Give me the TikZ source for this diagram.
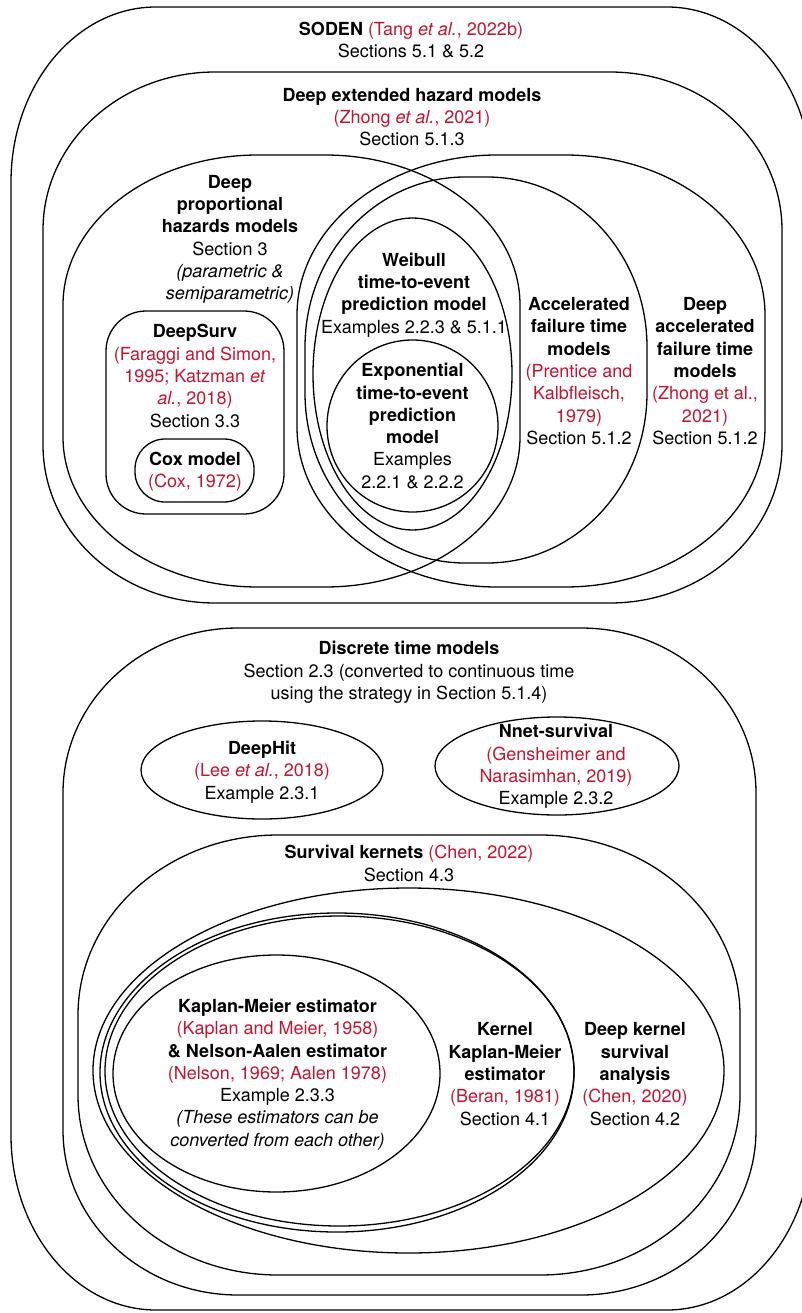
\documentclass[tikz,border=0pt]{standalone}
\usepackage{fontspec}
\setmainfont{TeX Gyre Heros}
\definecolor{cred}{RGB}{196,20,50}
\newcommand\cit[1]{\textcolor{cred}{#1}}
% elliptical-corner rectangle: x1 y1 x2 y2 rx ry (image pixel coords, y down)
\newcommand\erect[6]{\draw[shp] (#1+#5,-#2) -- (#3-#5,-#2)
  arc[start angle=90,end angle=0,x radius=#5,y radius=#6] -- (#3,-#4+#6)
  arc[start angle=0,end angle=-90,x radius=#5,y radius=#6] -- (#1+#5,-#4)
  arc[start angle=270,end angle=180,x radius=#5,y radius=#6] -- (#1,-#2-#6)
  arc[start angle=180,end angle=90,x radius=#5,y radius=#6] -- cycle;}
\tikzset{
  lbl/.style={align=center, inner sep=0pt, font=\fontsize{18}{22.3}\selectfont},
  shp/.style={line width=1.3pt, line join=round}
}
\begin{document}
\begin{tikzpicture}[x=1pt,y=1pt]
\useasboundingbox (0,0) rectangle (802,-1313);
\clip (0,0) rectangle (802,-1313);
\fill[white] (0,0) rectangle (802,-1313);
% ---- shapes ----
\erect{11}{7}{812}{1310}{145}{175}
\erect{43}{72}{782}{603}{172}{158}
\erect{63}{155}{520}{587}{195}{150}
\erect{297}{155}{765}{587}{200}{160}
\erect{305}{177}{647}{563}{160}{170}
\draw[shp] (412.5,-374) ellipse [x radius=99.5, y radius=156];
\draw[shp] (412.5,-426) ellipse [x radius=85.5, y radius=86];
\draw[shp, rounded corners=40] (106,-311) rectangle (284,-514);
\draw[shp, rounded corners=30] (135,-439) rectangle (254,-502);
\erect{63}{628}{756}{1295}{175}{165}
\draw[shp] (262,-770) ellipse [x radius=121, y radius=49];
\draw[shp] (557,-766) ellipse [x radius=122, y radius=49];
\erect{78}{835}{740}{1275}{200}{180}
\draw[shp] (408.5,-1070.5) ellipse [x radius=315.5, y radius=182.5];
\draw[shp] (337,-1072.5) ellipse [x radius=237, y radius=159.5];
\draw[shp] (339.5,-1071) ellipse [x radius=234.5, y radius=155];
\draw[shp] (276.5,-1073.5) ellipse [x radius=163.5, y radius=118.5];
% ---- labels ----
\node[lbl] (soden) at (411,-40) {\textbf{SODEN} \cit{(Tang \textit{et al.}, 2022b)}\\Sections 5.1 \& 5.2};
\node[lbl] (deh) at (412,-117) {\textbf{Deep extended hazard models}\\\cit{(Zhong \textit{et al.}, 2021)}\\Section 5.1.3};
\node[lbl] (dph) at (230,-239.5) {\textbf{Deep}\\\textbf{proportional}\\\textbf{hazards models}\\Section 3\\\textit{(parametric \&}\\\textit{semiparametric)}};
\node[lbl] (deepsurv) at (195,-376) {\textbf{DeepSurv}\\\cit{(Faraggi and Simon,}\\\cit{1995; Katzman \textit{et}}\\\cit{\textit{al.}, 2018)}\\Section 3.3};
\node[lbl] (cox) at (195,-472) {\textbf{Cox model}\\\cit{(Cox, 1972)}};
\node[lbl] (weibull) at (414,-295) {\textbf{Weibull}\\\textbf{time-to-event}\\\textbf{prediction model}\\Examples 2.2.3 \& 5.1.1};
\node[lbl] (expo) at (412.5,-426) {\textbf{Exponential}\\\textbf{time-to-event}\\\textbf{prediction}\\\textbf{model}\\Examples\\2.2.1 \& 2.2.2};
\node[lbl] (aft) at (579,-371) {\textbf{Accelerated}\\\textbf{failure time}\\\textbf{models}\\\cit{(Prentice and}\\\cit{Kalbfleisch,}\\\cit{1979)}\\Section 5.1.2};
\node[lbl] (daft) at (705,-371) {\textbf{Deep}\\\textbf{accelerated}\\\textbf{failure time}\\\textbf{models}\\\cit{(Zhong et al.,}\\\cit{2021)}\\Section 5.1.2};
\node[lbl] (discrete) at (409,-672.5) {\textbf{Discrete time models}\\Section 2.3 (converted to continuous time\\using the strategy in Section 5.1.4)};
\node[lbl] (deephit) at (262,-772) {\textbf{DeepHit}\\\cit{(Lee \textit{et al.}, 2018)}\\Example 2.3.1};
\node[lbl] (nnet) at (556,-766.5) {\textbf{Nnet-survival}\\\cit{(Gensheimer and}\\\cit{Narasimhan, 2019)}\\Example 2.3.2};
\node[lbl] (sk) at (409,-863.5) {\textbf{Survival kernets} \cit{(Chen, 2022)}\\Section 4.3};
\node[lbl] (km) at (277.5,-1074.5) {\textbf{Kaplan-Meier estimator}\\\cit{(Kaplan and Meier, 1958)}\\\textbf{\& Nelson-Aalen estimator}\\\cit{(Nelson, 1969; Aalen 1978)}\\Example 2.3.3\\\textit{(These estimators can be}\\\textit{converted from each other)}};
\node[lbl] (kkm) at (505,-1074) {\textbf{Kernel}\\\textbf{Kaplan-Meier}\\\textbf{estimator}\\\cit{(Beran, 1981)}\\Section 4.1};
\node[lbl] (dk) at (635,-1074) {\textbf{Deep kernel}\\\textbf{survival}\\\textbf{analysis}\\\cit{(Chen, 2020)}\\Section 4.2};
\end{tikzpicture}
\end{document}
